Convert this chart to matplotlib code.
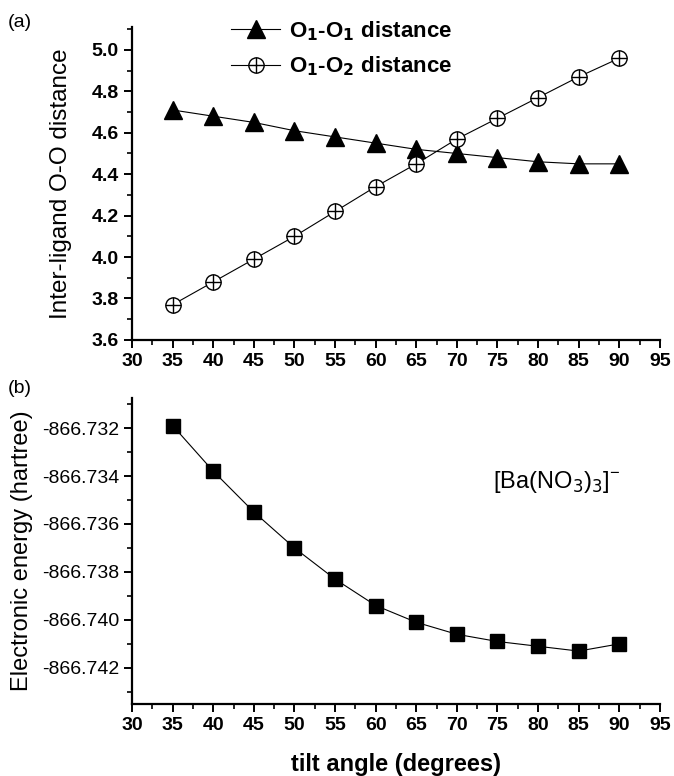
import matplotlib
matplotlib.use("Agg")
import matplotlib.pyplot as plt
from matplotlib.ticker import MultipleLocator, FormatStrFormatter

# datos
tilt = [35, 40, 45, 50, 55, 60, 65, 70, 75, 80, 85, 90]
o1_o1 = [4.71, 4.68, 4.65, 4.61, 4.58, 4.55, 4.52, 4.50, 4.48, 4.46, 4.45, 4.45]
o1_o2 = [3.77, 3.88, 3.99, 4.10, 4.22, 4.34, 4.45, 4.57, 4.67, 4.77, 4.87, 4.96]
energia = [-866.7319, -866.7338, -866.7355, -866.7370, -866.7383, -866.7394,
           -866.7401, -866.7406, -866.7409, -866.7411, -866.7413, -866.7410]

narrow = ['Liberation Sans Narrow', 'Liberation Sans', 'DejaVu Sans']
normal = ['Liberation Sans', 'DejaVu Sans']

fig = plt.figure(figsize=(6.74, 7.76), dpi=100)
ax1 = fig.add_axes([0.196, 0.562, 0.783, 0.403])
ax2 = fig.add_axes([0.196, 0.093, 0.783, 0.394])


def estilo(ax, ybold=True):
    for s in ['top', 'right']:
        ax.spines[s].set_visible(False)
    for s in ['left', 'bottom']:
        ax.spines[s].set_linewidth(1.6)
    ax.set_xlim(30, 95)
    ax.xaxis.set_major_locator(MultipleLocator(5))
    ax.xaxis.set_minor_locator(MultipleLocator(2.5))
    ax.tick_params(which='major', direction='out', length=6, width=1.4)
    ax.tick_params(which='minor', direction='out', length=3.5, width=1.2)
    for lab in ax.get_xticklabels():
        lab.set_family(narrow)
        lab.set_fontweight('bold')
        lab.set_fontsize(14)
    for lab in ax.get_yticklabels():
        lab.set_family(narrow)
        lab.set_fontweight('bold' if ybold else 'normal')
        lab.set_fontsize(14)


# (a) distancias
l1, = ax1.plot(tilt, o1_o1, color='black', lw=0.8, marker='^', ms=13,
               mfc='black', mec='black')
l2a, = ax1.plot(tilt, o1_o2, color='black', lw=0.8, marker='o', ms=11,
                mfc='white', mec='black', mew=1.0)
l2b, = ax1.plot(tilt, o1_o2, ls='none', marker='+', ms=11, mec='black', mew=1.0)
ax1.set_ylim(3.6, 5.11)
ax1.yaxis.set_major_locator(MultipleLocator(0.2))
ax1.yaxis.set_minor_locator(MultipleLocator(0.1))
ax1.yaxis.set_major_formatter(FormatStrFormatter('%.1f'))
estilo(ax1)
ax1.set_ylabel('Inter-ligand O-O distance', fontsize=17.5, family=normal, labelpad=14)
leg = ax1.legend([l1, (l2a, l2b)],
                 [r'O$_\mathbf{1}$-O$_\mathbf{1}$ distance', r'O$_\mathbf{1}$-O$_\mathbf{2}$ distance'],
                 loc='upper left', bbox_to_anchor=(0.15, 1.09), frameon=False,
                 prop={'family': normal, 'weight': 'bold', 'size': 16},
                 handlelength=2.2, handletextpad=0.4, labelspacing=0.55)
fig.text(0.012, 0.965, '(a)', fontsize=14, family=normal)

# (b) energia
ax2.plot(tilt, energia, color='black', lw=0.8, marker='s', ms=10,
         mfc='black', mec='black')
ax2.set_ylim(-866.7435, -866.73075)
ax2.yaxis.set_major_locator(MultipleLocator(0.002))
ax2.yaxis.set_minor_locator(MultipleLocator(0.001))
ax2.yaxis.set_major_formatter(FormatStrFormatter('%.3f'))
estilo(ax2, ybold=False)
ax2.set_ylabel('Electronic energy (hartree)', fontsize=17, family=normal, labelpad=6)
ax2.set_xlabel('tilt angle (degrees)', fontsize=17, family=narrow,
               fontweight='bold', labelpad=14)
ax2.text(0.684, 0.725, r'[Ba(NO$_3$)$_3$]$^{\mathregular{-}}$', transform=ax2.transAxes,
         fontsize=17, family=normal, va='center')
fig.text(0.012, 0.493, '(b)', fontsize=14, family=normal)

fig.savefig('out.png', dpi=100)
